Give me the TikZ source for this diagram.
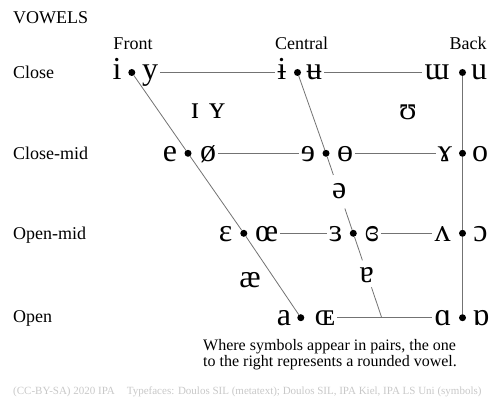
\documentclass[tikz,border=0pt]{standalone}
\usepackage{fontspec}
\setmainfont{Liberation Serif}
\usetikzlibrary{calc}
\definecolor{linegray}{RGB}{115,115,115}
\definecolor{footgray}{RGB}{200,200,200}
\tikzset{
  sym/.style={anchor=base, inner sep=2pt, font=\fontsize{32}{34}\selectfont},
  lbl/.style={anchor=base west, inner sep=0pt, font=\fontsize{18}{20}\selectfont},
  hdr/.style={anchor=base, inner sep=0pt, font=\fontsize{18}{20}\selectfont},
  notetext/.style={anchor=base west, inner sep=0pt, font=\fontsize{16}{17}\selectfont},
  foot/.style={anchor=base west, inner sep=0pt, text=footgray, font=\fontsize{11}{12}\selectfont},
  vdot/.style={circle, fill=black, inner sep=0pt, minimum size=7pt},
  chart/.style={draw=linegray, line width=0.8pt}
}
\begin{document}
\begin{tikzpicture}[x=1pt,y=-1pt]
\useasboundingbox (0,0) rectangle (497,401);
% labels
\node[lbl] (title) at (13,24) {VOWELS};
\node[hdr] (front) at (133,50) {Front};
\node[hdr] (central) at (301.5,50) {Central};
\node[hdr] (back) at (468,50) {Back};
\node[lbl] (close) at (13,78.5) {Close};
\node[lbl] (closemid) at (13,159.5) {Close-mid};
\node[lbl] (openmid) at (13,239.5) {Open-mid};
\node[lbl] (open) at (13,322) {Open};
% dots
\node[vdot] (dCF) at (131.8,72.5) {};
\node[vdot] (dCC) at (297.5,72.5) {};
\node[vdot] (dCB) at (462.5,72.5) {};
\node[vdot] (dCMF) at (188,153.3) {};
\node[vdot] (dCMC) at (326,153.3) {};
\node[vdot] (dCMB) at (462.5,153.3) {};
\node[vdot] (dOMF) at (243.8,233.3) {};
\node[vdot] (dOMC) at (353.3,233.3) {};
\node[vdot] (dOMB) at (462.5,233.3) {};
\node[vdot] (dOF) at (300.8,317.7) {};
\node[vdot] (dOB) at (462.5,317.7) {};
\coordinate (cOC) at (381.7,317.7);
% symbols: close
\node[sym] (i) at (117,80) {i};
\node[sym] (y) at (150,80) {y};
\node[sym] (ibar) at (281.7,80) {ɨ};
\node[sym] (ubar) at (314,80) {ʉ};
\node[sym] (wu) at (437,80) {ɯ};
\node[sym] (u) at (479,80) {u};
\node[sym] (smi) at (195,118) {ɪ};
\node[sym] (smy) at (217,118) {ʏ};
\node[sym] (ups) at (408,119) {ʊ};
% close-mid
\node[sym] (e) at (170,161) {e};
\node[sym] (oslash) at (208,161) {ø};
\node[sym] (reve) at (308,161) {ɘ};
\node[sym] (obar) at (345,161) {ɵ};
\node[sym] (rams) at (445,161) {ɤ};
\node[sym] (o) at (480,161) {o};
\node[sym] (schwa) at (339.3,198) {ə};
% open-mid
\node[sym] (eps) at (225.5,241) {ɛ};
\node[sym] (oe) at (266.7,241) {œ};
\node[sym] (reps) at (335.5,241) {ɜ};
\node[sym] (cleps) at (372,241) {ɞ};
\node[sym] (wedge) at (442.5,241) {ʌ};
\node[sym] (oopen) at (480.5,241) {ɔ};
\node[sym] (ae) at (250,287) {æ};
\node[sym] (turna) at (366.7,282) {ɐ};
% open
\node[sym] (a) at (284,325) {a};
\node[sym] (OE) at (325,325) {ɶ};
\node[sym] (alpha) at (443,325) {ɑ};
\node[sym] (turnalpha) at (481,325) {ɒ};
% connectors
\draw[chart] (dCF) -- (dCMF) -- (dOMF) -- (dOF);
\draw[chart] (dCB) -- (dCMB) -- (dOMB) -- (dOB);
\draw[chart] (dCC) -- (dCMC) -- ($(dCMC)!0.27!(dOMC)$);
\draw[chart] ($(dCMC)!0.69!(dOMC)$) -- (dOMC) -- ($(dOMC)!0.32!(cOC)$);
\draw[chart] ($(dOMC)!0.64!(cOC)$) -- (cOC);
\draw[chart] (y.east |- dCF) -- (ibar.west |- dCC);
\draw[chart] (ubar.east |- dCC) -- (wu.west |- dCB);
\draw[chart] (oslash.east |- dCMF) -- (reve.west |- dCMC);
\draw[chart] (obar.east |- dCMC) -- (rams.west |- dCMB);
\draw[chart] (oe.east |- dOMF) -- (reps.west |- dOMC);
\draw[chart] (cleps.east |- dOMC) -- (wedge.west |- dOMB);
\draw[chart] (OE.east |- dOF) -- (alpha.west |- dOB);
% note
\node[notetext] (note1) at (203,350) {Where symbols appear in pairs, the one};
\node[notetext] (note2) at (203,366.5) {to the right represents a rounded vowel.};
\node[foot] (footer) at (13,394) {(CC-BY-SA) 2020 IPA\hspace{12pt}Typefaces: Doulos SIL (metatext); Doulos SIL, IPA Kiel, IPA LS Uni (symbols)};
\end{tikzpicture}
\end{document}
